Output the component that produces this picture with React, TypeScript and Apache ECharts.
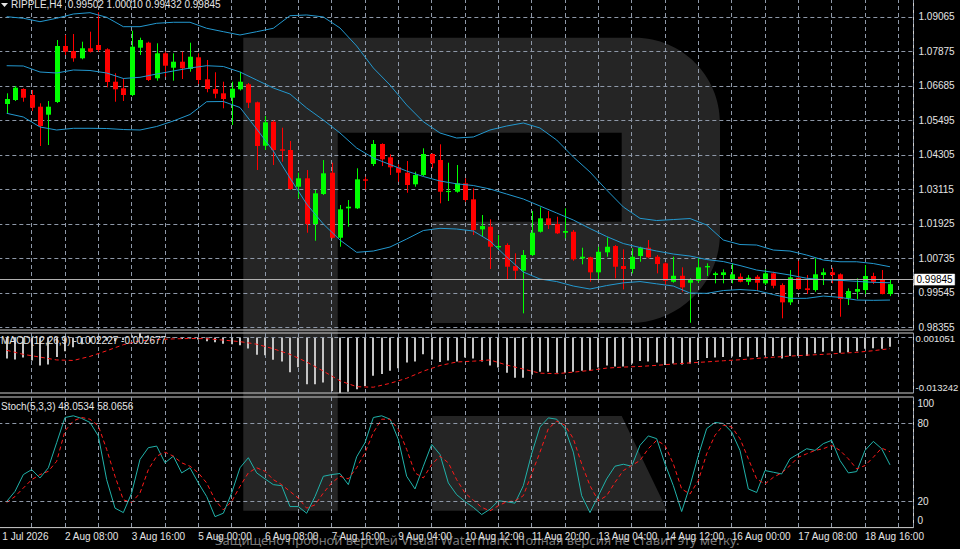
import React, { useEffect, useRef } from "react";
import * as echarts from "echarts";

// ---------- data ----------
const SYMBOL = "RIPPLE,H4";
const FIRST_LABEL = "1 Jul 2026";
const X_LABELS = [
  "2 Aug 08:00", "3 Aug 16:00", "5 Aug 00:00", "6 Aug 08:00", "7 Aug 16:00",
  "9 Aug 04:00", "10 Aug 12:00", "11 Aug 20:00", "13 Aug 04:00", "14 Aug 12:00",
  "16 Aug 00:00", "17 Aug 08:00", "18 Aug 16:00",
];
const X_LABEL_FIRST_BAR = 7;
const X_LABEL_EVERY = 8;

const OPEN = [
  1.06057, 1.06195, 1.06575, 1.06368, 1.05964, 1.05688, 1.06126, 1.08058, 1.07886, 1.07634,
  1.07979, 1.08093, 1.07944, 1.06826, 1.06599, 1.06368, 1.07999, 1.08172, 1.06944, 1.07806,
  1.07309, 1.07516, 1.07265, 1.07668, 1.06909, 1.06575, 1.06426, 1.06274, 1.06564, 1.06737,
  1.06116, 1.04618, 1.05446, 1.04494, 1.0447, 1.03204, 1.03494, 1.01917, 1.02952, 1.03687,
  1.01444, 1.02459, 1.02459, 1.03459, 1.03987, 1.04677, 1.04218, 1.03873, 1.03687, 1.03287,
  1.03608, 1.04332, 1.04125, 1.0302, 1.03031, 1.03321, 1.02769, 1.01734, 1.01824, 1.01113,
  1.01193, 1.00468, 1.00306, 1.00848, 1.01651, 1.02114, 1.01917, 1.01617, 1.01651, 1.00734,
  1.00768, 1.00251, 1.00941, 1.01158, 1.00468, 1.00365, 1.00813, 1.01099, 1.00789, 1.00561,
  0.99926, 1.00133, 0.99892, 0.99961, 1.00423, 1.00158, 1.00158, 1.0002, 1.00099, 0.99926,
  1.00099, 0.99871, 1.00216, 0.99813, 0.99216, 1.00064, 0.99699, 0.9964, 1.00158, 1.00251,
  1.00182, 0.99354, 0.99581, 0.9964, 1.00123, 1.0002, 0.99502,
];
const HIGH = [
  1.06426, 1.06678, 1.06599, 1.0654, 1.06081, 1.06161, 1.08265, 1.08438, 1.08472, 1.08206,
  1.08551, 1.09221, 1.07979, 1.07116, 1.06944, 1.08586, 1.08344, 1.08206, 1.08151, 1.07861,
  1.07806, 1.07861, 1.08172, 1.07806, 1.07575, 1.07151, 1.06826, 1.06826, 1.07171, 1.06782,
  1.0614, 1.05643, 1.05488, 1.05239, 1.04781, 1.03687, 1.0378, 1.0309, 1.04125, 1.04032,
  1.02573, 1.02745, 1.03839, 1.03549, 1.04815, 1.04701, 1.04322, 1.03977, 1.04091, 1.03721,
  1.04529, 1.04356, 1.04667, 1.04032, 1.03953, 1.03494, 1.03149, 1.02228, 1.02079, 1.01538,
  1.01251, 1.00906, 1.0102, 1.02366, 1.02493, 1.02366, 1.02169, 1.02459, 1.0171, 1.01099,
  1.00789, 1.01134, 1.01458, 1.01193, 1.01044, 1.01079, 1.01134, 1.01365, 1.00848, 1.00596,
  1.00789, 1.00423, 1.00044, 1.00734, 1.00561, 1.00271, 1.00354, 1.00561, 1.00216, 1.00158,
  1.00158, 1.00354, 1.00271, 0.99871, 1.0033, 1.00651, 1.00158, 1.00734, 1.00389, 1.0041,
  1.00216, 0.99699, 1.00044, 1.00503, 1.00237, 1.0033, 1.0001,
];
const LOW = [
  1.05736, 1.06161, 1.06136, 1.05816, 1.04608, 1.04643, 1.06092, 1.07748, 1.07516, 1.07599,
  1.07834, 1.07861, 1.06633, 1.06136, 1.06161, 1.0633, 1.07748, 1.0685, 1.06861, 1.06999,
  1.06861, 1.0692, 1.07171, 1.06747, 1.06461, 1.06254, 1.05909, 1.05333, 1.06523, 1.05919,
  1.0378, 1.0447, 1.03953, 1.04066, 1.0309, 1.02804, 1.01617, 1.01341, 1.02918, 1.01417,
  1.01134, 1.01824, 1.02435, 1.03114, 1.03918, 1.03918, 1.03608, 1.03376, 1.02997, 1.03204,
  1.03573, 1.03839, 1.02631, 1.02711, 1.02997, 1.02686, 1.01538, 1.01479, 1.00365, 1.0102,
  0.99985, 0.99985, 0.98836, 1.00813, 1.01624, 1.01745, 1.01572, 1.01424, 1.00651, 1.00527,
  0.99926, 0.99985, 1.00789, 1.00044, 0.99664, 1.00216, 1.00616, 1.00734, 1.00216, 0.99813,
  0.99892, 0.99581, 0.98512, 0.99892, 1.00123, 0.99871, 0.99871, 0.99871, 0.99906, 0.99813,
  0.99616, 0.99813, 0.99699, 0.98664, 0.99123, 0.9964, 0.99502, 0.99581, 0.99813, 0.99871,
  0.98719, 0.99123, 0.9933, 0.99502, 0.99847, 0.99492, 0.99432,
];
const CLOSE = [
  1.0623, 1.06619, 1.06274, 1.05929, 1.05298, 1.05964, 1.08058, 1.07861, 1.07634, 1.07979,
  1.07861, 1.0792, 1.06816, 1.06564, 1.06368, 1.08034, 1.08265, 1.06885, 1.07806, 1.07378,
  1.07516, 1.07289, 1.07689, 1.06885, 1.06575, 1.06412, 1.0623, 1.06585, 1.06826, 1.06102,
  1.04608, 1.05426, 1.0447, 1.04446, 1.03125, 1.03494, 1.01917, 1.02976, 1.03666, 1.01444,
  1.02424, 1.02514, 1.03459, 1.03411, 1.04677, 1.04149, 1.03873, 1.03687, 1.03263, 1.03608,
  1.04332, 1.04011, 1.03031, 1.03056, 1.03321, 1.02745, 1.0171, 1.01848, 1.01134, 1.01158,
  1.00444, 1.00306, 1.00848, 1.01617, 1.02114, 1.01883, 1.01596, 1.01676, 1.00699, 1.00789,
  1.00251, 1.00961, 1.01134, 1.00444, 1.00365, 1.00789, 1.01099, 1.00768, 1.00537, 0.99961,
  1.00133, 0.99733, 0.99985, 1.00423, 1.00468, 1.00216, 1.00251, 1.00182, 0.99926, 1.00064,
  0.99892, 1.00216, 0.99788, 0.99216, 1.00078, 0.99675, 0.9964, 1.00182, 1.00251, 1.00158,
  0.9933, 0.99606, 0.99675, 1.00123, 0.99926, 0.99502, 0.99845,
];

// Bollinger bands, read every second bar (bars 0, 2, 4, ... 106)
const BB_STEP = 2;
const BB_UPPER = [
  1.09069, 1.09014, 1.08896, 1.09014, 1.09162, 1.09207, 1.09048, 1.08724, 1.08724, 1.08841,
  1.08876, 1.08876, 1.08669, 1.08551, 1.08438, 1.08551, 1.08669, 1.09103, 1.09128, 1.0906,
  1.08679, 1.08058, 1.07299, 1.06713, 1.06023, 1.05446, 1.05057, 1.04884, 1.04919, 1.0516,
  1.05298, 1.05402, 1.05229, 1.04815, 1.04229, 1.03711, 1.0309, 1.02504, 1.02114, 1.02038,
  1.02072, 1.02107, 1.01883, 1.01365, 1.0121, 1.01193, 1.0102, 1.00986, 1.00848, 1.00675,
  1.00616, 1.00616, 1.00554, 1.00444,
];
const BB_MID = [
  1.07378, 1.07368, 1.07161, 1.07127, 1.0723, 1.07213, 1.07127, 1.06937, 1.06978, 1.07092,
  1.07196, 1.07299, 1.07378, 1.07351, 1.07161, 1.06885, 1.06609, 1.06402, 1.05919, 1.05505,
  1.05057, 1.04539, 1.04194, 1.0397, 1.03746, 1.03556, 1.03401, 1.03304, 1.03245, 1.03125,
  1.02952, 1.0278, 1.02538, 1.02297, 1.02055, 1.01762, 1.01486, 1.01244, 1.01106, 1.00986,
  1.00882, 1.00813, 1.00692, 1.00623, 1.00485, 1.0033, 1.00251, 1.00158, 1.00047, 0.99995,
  0.99975, 0.9994, 0.99906, 0.99892,
];
const BB_LOWER = [
  1.05736, 1.05609, 1.05264, 1.0516, 1.05219, 1.05219, 1.05212, 1.05177, 1.0516, 1.05281,
  1.05471, 1.05695, 1.06136, 1.06143, 1.05936, 1.05195, 1.04436, 1.03504, 1.02607, 1.01917,
  1.01365, 1.00941, 1.00986, 1.01124, 1.014, 1.01693, 1.01769, 1.01745, 1.01676, 1.01331,
  1.00779, 1.00261, 1.0002, 0.99933, 0.99778, 0.99675, 0.99795, 0.99888, 0.99933, 0.99854,
  0.99778, 0.99537, 0.99526, 0.99623, 0.99657, 0.99623, 0.99485, 0.99354, 0.99354, 0.99433,
  0.99388, 0.99295, 0.99285, 0.99295,
];

const MACD_MAIN = [
  -0.005005, -0.005248, -0.004763, -0.00549, -0.006701, -0.006459, -0.00469, -0.00331, -0.002341, -0.001614,
  -0.001129, -0.000645, -0.000766, -0.000887, -0.000645, 0.000445, 0.001051, 0.000445, 0.000203, -0.000039,
  -0.00016, -0.000403, -0.000281, -0.000524, -0.000887, -0.001129, -0.001493, -0.001614, -0.001856, -0.002655,
  -0.004109, -0.004279, -0.00532, -0.005732, -0.008324, -0.007113, -0.011134, -0.011134, -0.010747, -0.012757,
  -0.013242, -0.012927, -0.012345, -0.011546, -0.009124, -0.008712, -0.007912, -0.007355, -0.005974, -0.005732,
  -0.004036, -0.005248, -0.005853, -0.00549, -0.005732, -0.004763, -0.005005, -0.005732, -0.006701, -0.007186,
  -0.008397, -0.009608, -0.009608, -0.008881, -0.008155, -0.008155, -0.008397, -0.008397, -0.008155, -0.007912,
  -0.007912, -0.007186, -0.006701, -0.006943, -0.006943, -0.006217, -0.005611, -0.005732, -0.005974, -0.00658,
  -0.006217, -0.006459, -0.006217, -0.005369, -0.004884, -0.004763, -0.004642, -0.004521, -0.004642, -0.004521,
  -0.004642, -0.004279, -0.0044, -0.005005, -0.0044, -0.0044, -0.0044, -0.003794, -0.003431, -0.00331,
  -0.003673, -0.003552, -0.00331, -0.002704, -0.002583, -0.002704, -0.002227,
];
// signal line, read every second bar
const MACD_SIGNAL = [
  -0.003067, -0.004036, -0.00469, -0.005369, -0.00549, -0.004521, -0.003188, -0.001735, -0.000814, -0.000524,
  -0.000354, -0.000257, -0.000306, -0.000645, -0.001008, -0.001614, -0.002704, -0.004036, -0.005853, -0.008033,
  -0.010335, -0.01174, -0.011861, -0.01094, -0.009729, -0.008033, -0.006701, -0.005853, -0.005659, -0.005369,
  -0.00658, -0.007549, -0.008518, -0.008639, -0.008276, -0.007864, -0.007307, -0.007064, -0.006919, -0.006653,
  -0.006338, -0.006071, -0.005829, -0.005562, -0.00532, -0.005005, -0.004715, -0.004448, -0.00423, -0.004036,
  -0.003794, -0.003552, -0.003164, -0.002677,
];
const MACD_MIN = -0.013242;
const MACD_MAX = 0.001051;

const STOCH_K = [
  20.0, 27.7, 40.6, 44.4, 38.0, 45.8, 65.0, 84.3, 85.6, 83.6,
  80.5, 70.2, 36.7, 14.9, 11.5, 26.5, 52.2, 61.2, 62.4, 49.6,
  54.7, 41.9, 45.8, 34.2, 23.8, 8.4, 11.0, 26.5, 45.8, 53.5,
  41.9, 37.3, 32.9, 32.1, 16.1, 16.1, 11.0, 23.8, 39.3, 40.6,
  41.4, 32.9, 54.2, 65.0, 84.3, 85.6, 83.0, 67.6, 39.3, 29.6,
  47.0, 63.7, 56.0, 34.2, 25.2, 20.0, 15.5, 10.0, 14.1, 20.5,
  19.8, 18.7, 32.1, 56.5, 77.1, 84.0, 83.0, 75.8, 57.8, 24.4,
  11.5, 24.4, 37.3, 47.0, 48.5, 47.0, 63.0, 70.2, 68.1, 48.8,
  32.1, 12.3, 32.1, 55.2, 75.8, 80.5, 79.7, 73.2, 59.1, 29.6,
  26.9, 43.7, 42.4, 41.1, 52.7, 56.5, 60.4, 59.1, 64.3, 66.8,
  51.4, 41.9, 42.9, 59.1, 66.0, 60.4, 48.0534,
];
const STOCH_D = [
  19.2, 23.8, 30.3, 36.7, 40.6, 43.1, 50.8, 74.0, 81.7, 84.3,
  83.0, 77.9, 59.9, 39.3, 21.3, 19.2, 26.5, 44.4, 54.7, 57.8,
  54.7, 49.6, 47.0, 41.9, 34.2, 21.3, 13.6, 20.0, 31.6, 41.9,
  45.8, 43.1, 36.7, 32.9, 27.7, 22.6, 14.9, 17.4, 26.5, 34.2,
  39.3, 37.3, 45.8, 57.3, 72.8, 83.0, 83.0, 75.3, 59.9, 41.9,
  38.0, 48.3, 54.7, 49.6, 36.7, 26.5, 21.0, 15.5, 12.8, 16.7,
  19.8, 20.5, 24.4, 41.1, 57.8, 75.8, 81.5, 78.4, 68.1, 48.8,
  32.1, 20.5, 24.4, 34.6, 43.7, 47.5, 51.4, 60.4, 66.8, 63.0,
  48.8, 29.6, 25.7, 36.0, 56.5, 70.7, 78.4, 77.1, 68.1, 52.7,
  37.3, 33.4, 38.5, 41.9, 47.5, 53.9, 56.5, 59.1, 60.4, 63.0,
  59.1, 52.7, 45.0, 47.5, 53.9, 60.9, 58.0656,
];
const STOCH_LEVELS = [20, 80];

const PRICE_MIN = 0.98355;
const PRICE_MAX = 1.09065;
const PRICE_STEP = 0.0119;

const WATERMARK_TEXT =
  "Защищено пробной версией Visual Watermark. Полная версия не ставит эту метку.";

// ---------- styling ----------
const FONT = "Liberation Sans, Arial, sans-serif";
const TEXT = "#e4e4e4";
const FRAME = "#cfcfcf";
const GRID_COLOR = "#8e98a8";
const UP = "#00ff00";
const DOWN = "#ff0000";
const BB_COLOR = "#2398cf";
const K_COLOR = "#20b2aa";
const RED = "#ff1a1a";
const HIST = "#c4c4c4";

const R_PATH =
  "M243.3 37.7 H635 C681.9 37.7 720 75.8 720 122.7 V233 C720 282.7 679.7 323 630 323 H432.3 V221.7 H621.7 V132.7 H337.7 V510.7 H243.3 Z " +
  "M432.3 416 H621.7 L667.3 510.7 H432.3 Z";
echarts.graphic.registerShape("rfLogo", echarts.graphic.extendPath(R_PATH, {}));

const GRID_L = -1.67;
const GRID_R = 46.5;
const X_MIN = -1;
const X_MAX = 108.82;
const X_STEP = 4;

const dash = { color: GRID_COLOR, type: [4, 3] as any, width: 1 };

function xAxisFor(gridIndex: number, opts: any = {}) {
  return {
    type: "value",
    gridIndex,
    min: X_MIN,
    max: X_MAX,
    interval: X_STEP,
    axisLine: { show: false },
    axisTick: { show: false },
    axisLabel: { show: false },
    splitLine: { show: true, lineStyle: dash },
    ...opts,
  };
}

function buildOption() {
  const n = CLOSE.length;
  const candles = OPEN.map((o, i) => [i, o, CLOSE[i], LOW[i], HIGH[i]]);
  const band = (arr: number[]) => arr.map((v, k) => [k * BB_STEP, v]);
  const last = n - 1;
  const lastClose = CLOSE[last];

  const label10 = { color: TEXT, fontSize: 10, fontFamily: FONT };
  const label95 = { color: TEXT, fontSize: 9.5, fontFamily: FONT };

  return {
    animation: false,
    backgroundColor: "#000",
    textStyle: { fontFamily: FONT },
    title: [
      {
        text: `${SYMBOL}  ${OPEN[last].toFixed(5)} ${HIGH[last].toFixed(5)} ${LOW[last].toFixed(5)} ${CLOSE[last].toFixed(5)}`,
        left: 11, top: -0.5, padding: 0,
        textStyle: { ...label10, fontWeight: "normal" },
      },
      {
        text: `MACD(12,26,9) ${MACD_MAIN[last].toFixed(6)} ${MACD_SIGNAL[MACD_SIGNAL.length - 1].toFixed(6)}`,
        left: 1, top: 335, padding: 0,
        textStyle: { ...label10, fontWeight: "normal" },
      },
      {
        text: `Stoch(5,3,3) ${STOCH_K[last].toFixed(4)} ${STOCH_D[last].toFixed(4)}`,
        left: 1, top: 401, padding: 0,
        textStyle: { ...label10, fontWeight: "normal" },
      },
      {
        text: WATERMARK_TEXT,
        left: 215, top: 533, padding: 0, z: 10,
        textStyle: { color: "rgba(200,200,200,0.62)", fontSize: 13, fontFamily: "Noto Sans, sans-serif", fontWeight: "normal" },
      },
    ],
    graphic: {
      elements: [
        { type: "rfLogo", x: 0, y: 0, scaleX: 1, scaleY: 1, z: -1, silent: true, style: { fill: "rgba(255,255,255,0.145)" } },
        { type: "polygon", z: 5, silent: true, shape: { points: [[1, 3], [8, 3], [4.5, 7]] }, style: { fill: TEXT } },
      ],
    },
    grid: [
      { left: GRID_L, right: GRID_R, top: -1, height: 331, show: true, borderColor: FRAME, borderWidth: 1, backgroundColor: "transparent", containLabel: false, outerBoundsMode: "none" },
      { left: GRID_L, right: GRID_R, top: 16.8, height: 310.5, containLabel: false, outerBoundsMode: "none" },
      { left: GRID_L, right: GRID_R, top: 333, height: 60, show: true, borderColor: FRAME, borderWidth: 1, backgroundColor: "transparent", containLabel: false, outerBoundsMode: "none" },
      { left: GRID_L, right: GRID_R, top: 397, height: 130.6, show: true, borderColor: FRAME, borderWidth: 1, backgroundColor: "transparent", containLabel: false, outerBoundsMode: "none" },
    ],
    xAxis: [
      xAxisFor(0),
      xAxisFor(1, { splitLine: { show: false } }),
      xAxisFor(2),
      xAxisFor(3, {
        axisLabel: {
          show: true,
          ...label10,
          align: "left",
          margin: 4,
          showMinLabel: true,
          showMaxLabel: true,
          formatter: (v: number) => {
            const r = Math.round(v);
            if (Math.abs(v - r) > 1e-6) return "";
            if (r === X_MIN) return `{f|${FIRST_LABEL}}`;
            if (r >= X_LABEL_FIRST_BAR && (r - X_LABEL_FIRST_BAR) % X_LABEL_EVERY === 0) {
              return X_LABELS[(r - X_LABEL_FIRST_BAR) / X_LABEL_EVERY] ?? "";
            }
            return "";
          },
          rich: { f: { ...label10, padding: [0, 0, 0, 4] } },
        },
      }),
    ],
    yAxis: [
      { type: "value", gridIndex: 0, show: false, min: 0, max: 1 },
      {
        type: "value", gridIndex: 1, position: "right",
        min: PRICE_MIN, max: PRICE_MAX, interval: PRICE_STEP,
        axisLine: { show: false },
        axisTick: { show: false },
        splitLine: { show: true, lineStyle: dash },
        axisLabel: { ...label10, margin: 5, formatter: (v: number) => v.toFixed(5) },
      },
      {
        type: "value", gridIndex: 2, position: "right",
        min: MACD_MIN, max: MACD_MAX, interval: MACD_MAX - MACD_MIN,
        axisLine: { show: false },
        axisTick: { show: false },
        splitLine: { show: false },
        axisLabel: {
          ...label95, margin: 2, showMinLabel: true, showMaxLabel: true,
          formatter: (v: number) =>
            Math.abs(v - MACD_MAX) < 1e-7 ? `{t|${MACD_MAX.toFixed(6)}}` : Math.abs(v - MACD_MIN) < 1e-7 ? `{b|${MACD_MIN.toFixed(6)}}` : "",
          rich: { t: { ...label95, padding: [11, 0, 0, 0] }, b: { ...label95, padding: [0, 0, 11, 0] } },
        },
      },
      {
        type: "value", gridIndex: 3, position: "right",
        min: 0, max: 100, interval: 20,
        axisLine: { show: false },
        axisTick: { show: false },
        splitLine: { show: false },
        axisLabel: {
          ...label10, margin: 4, showMinLabel: true, showMaxLabel: true,
          formatter: (v: number) => {
            const r = Math.round(v);
            if (r === 100) return "{t|100}";
            if (r === 0) return "{b|0}";
            if (STOCH_LEVELS.includes(r)) return String(r);
            return "";
          },
          rich: { t: { ...label10, padding: [13, 0, 0, 0] }, b: { ...label10, padding: [0, 0, 14, 0] } },
        },
      },
    ],
    series: [
      {
        type: "custom",
        name: "candles",
        xAxisIndex: 1, yAxisIndex: 1,
        clip: false,
        silent: true,
        z: 2,
        encode: { x: 0, y: [1, 2, 3, 4] },
        data: candles,
        renderItem: (params: any, api: any) => {
          const x = api.value(0);
          const o = api.value(1), c = api.value(2), l = api.value(3), h = api.value(4);
          const po = api.coord([x, o]);
          const pc = api.coord([x, c]);
          const pl = api.coord([x, l]);
          const ph = api.coord([x, h]);
          const cx = Math.round(po[0]) + 0.5;
          const w = Math.round(api.size([1, 0])[0] * 0.6);
          const col = c >= o ? UP : DOWN;
          const top = Math.min(po[1], pc[1]);
          const hgt = Math.max(1, Math.abs(po[1] - pc[1]));
          return {
            type: "group",
            children: [
              { type: "line", shape: { x1: cx, y1: ph[1], x2: cx, y2: pl[1] }, style: { stroke: col, lineWidth: 1 } },
              { type: "rect", shape: { x: cx - w / 2, y: top, width: w, height: hgt }, style: { fill: col } },
            ],
          };
        },
      },
      {
        type: "line", name: "bbUpper", xAxisIndex: 1, yAxisIndex: 1, data: band(BB_UPPER),
        showSymbol: false, symbol: "none", clip: false, silent: true, z: 3,
        lineStyle: { color: BB_COLOR, width: 1 },
      },
      {
        type: "line", name: "bbMid", xAxisIndex: 1, yAxisIndex: 1, data: band(BB_MID),
        showSymbol: false, symbol: "none", clip: false, silent: true, z: 3,
        lineStyle: { color: BB_COLOR, width: 1 },
        markLine: {
          silent: true, symbol: ["none", "none"], animation: false,
          lineStyle: { color: "#b0b0b0", type: "solid", width: 1 },
          label: {
            show: true, position: "end", distance: 1,
            formatter: lastClose.toFixed(5),
            backgroundColor: "#ffffff", color: "#000", fontSize: 10, fontFamily: FONT,
            padding: [1, 2, 0, 2], borderColor: "#888", borderWidth: 0.5,
          },
          data: [{ yAxis: lastClose }],
        },
      },
      {
        type: "line", name: "bbLower", xAxisIndex: 1, yAxisIndex: 1, data: band(BB_LOWER),
        showSymbol: false, symbol: "none", clip: false, silent: true, z: 3,
        lineStyle: { color: BB_COLOR, width: 1 },
      },
      {
        type: "custom", name: "macd", xAxisIndex: 2, yAxisIndex: 2, silent: true,
        encode: { x: 0, y: 1 },
        data: MACD_MAIN.map((v, i) => [i, v]),
        renderItem: (params: any, api: any) => {
          const x = api.value(0), v = api.value(1);
          const p0 = api.coord([x, 0]);
          const p1 = api.coord([x, v]);
          const cx = Math.round(p0[0]);
          return { type: "line", shape: { x1: cx, y1: p0[1], x2: cx, y2: p1[1] }, style: { stroke: HIST, lineWidth: 2 } };
        },
      },
      {
        type: "line", name: "signal", xAxisIndex: 2, yAxisIndex: 2, data: band(MACD_SIGNAL),
        showSymbol: false, symbol: "none", silent: true, z: 3,
        lineStyle: { color: RED, width: 1, type: [4, 3] as any },
        markLine: {
          silent: true, symbol: ["none", "none"], animation: false,
          lineStyle: dash, label: { show: false },
          data: [{ yAxis: 0 }],
        },
      },
      {
        type: "line", name: "stochK", xAxisIndex: 3, yAxisIndex: 3,
        data: STOCH_K.map((v, i) => [i, v]),
        showSymbol: false, symbol: "none", silent: true, z: 3,
        lineStyle: { color: K_COLOR, width: 1 },
        markLine: {
          silent: true, symbol: ["none", "none"], animation: false,
          lineStyle: dash, label: { show: false },
          data: STOCH_LEVELS.map((l) => ({ yAxis: l })),
        },
      },
      {
        type: "line", name: "stochD", xAxisIndex: 3, yAxisIndex: 3,
        data: STOCH_D.map((v, i) => [i, v]),
        showSymbol: false, symbol: "none", silent: true, z: 3,
        lineStyle: { color: RED, width: 1, type: [4, 3] as any },
      },
    ],
  };
}

export default function App() {
  const ref = useRef<HTMLDivElement>(null);
  useEffect(() => {
    if (!ref.current) return;
    const chart = echarts.init(ref.current, null, { renderer: "svg" });
    chart.setOption(buildOption() as any);
    return () => chart.dispose();
  }, []);
  return (
    <div
      ref={ref}
      style={{ position: "fixed", left: 0, top: 0, width: 960, height: 549, background: "#000" }}
    />
  );
}
